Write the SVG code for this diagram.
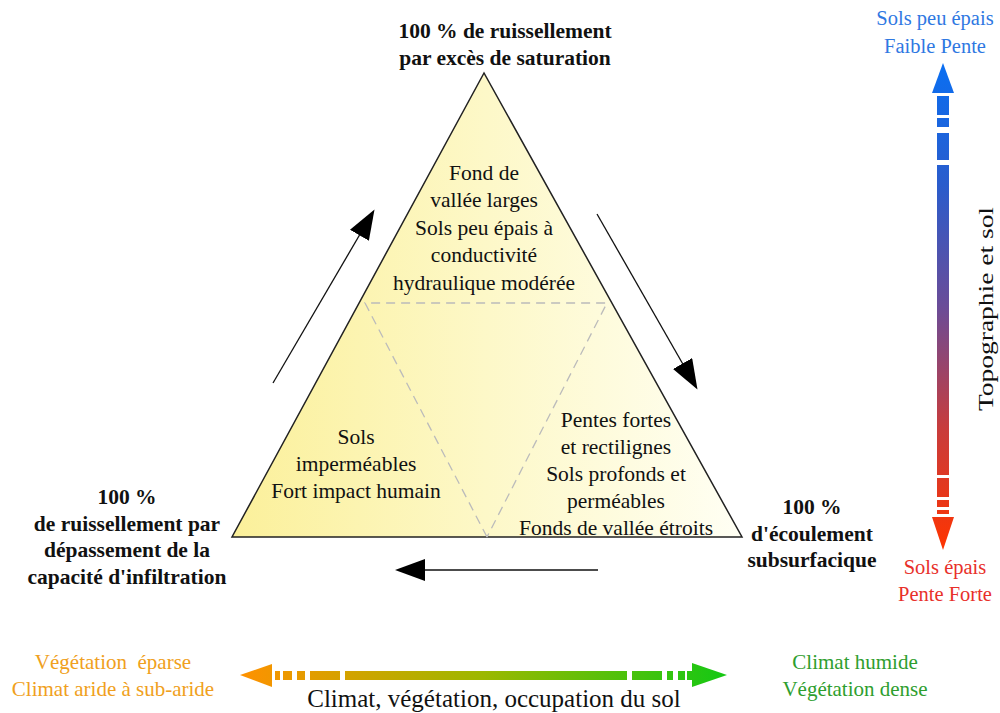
<svg xmlns="http://www.w3.org/2000/svg" width="1000" height="713" viewBox="0 0 1000 713">
<defs>
<linearGradient id="triFill" x1="232" y1="0" x2="742" y2="0" gradientUnits="userSpaceOnUse">
<stop offset="0" stop-color="#fbf09a"/>
<stop offset="0.5" stop-color="#fdf8c8"/>
<stop offset="1" stop-color="#fffff4"/>
</linearGradient>
<linearGradient id="vGrad" x1="0" y1="63" x2="0" y2="550" gradientUnits="userSpaceOnUse">
<stop offset="0" stop-color="#0a6ff2"/>
<stop offset="0.25" stop-color="#2a5ccc"/>
<stop offset="0.5" stop-color="#6a4c98"/>
<stop offset="0.75" stop-color="#c83c3c"/>
<stop offset="1" stop-color="#ff3400"/>
</linearGradient>
<linearGradient id="hGrad" x1="240" y1="0" x2="727" y2="0" gradientUnits="userSpaceOnUse">
<stop offset="0" stop-color="#ff9100"/>
<stop offset="0.5" stop-color="#9cb800"/>
<stop offset="1" stop-color="#14c814"/>
</linearGradient>
<marker id="ah" viewBox="0 0 10 10" refX="9" refY="5" markerWidth="30" markerHeight="22" markerUnits="userSpaceOnUse" orient="auto" preserveAspectRatio="none">
<path d="M0,0 L10,5 L0,10 z" fill="#000"/>
</marker>
<style>
.t{fill:#111;text-anchor:middle}
.b{font-weight:bold;font-size:21.5px}
.n{font-size:21.5px}
.c{font-size:21px}
.r{font-size:20.5px}
.flow{stroke:#111;stroke-width:1.3;fill:none}
.dash{stroke:#bbb;stroke-width:1.3;stroke-dasharray:9,6;fill:none}
</style>
</defs>

<g font-family="Liberation Serif, Times New Roman, DejaVu Serif, serif">
<g id="triangle">
<polygon points="484,73 232,537 742,537" fill="url(#triFill)" stroke="#222" stroke-width="1.5"/>
<polyline class="dash" points="487,537 365,303 607,303 487,537"/>
</g>

<g id="zone-top">
<text class="t n" x="484" y="180">Fond de</text>
<text class="t n" x="484" y="207">vallée larges</text>
<text class="t n" x="484" y="235">Sols peu épais à</text>
<text class="t n" x="484" y="262">conductivité</text>
<text class="t n" x="484" y="290">hydraulique modérée</text>
</g>

<g id="zone-left">
<text class="t n" x="356" y="444">Sols</text>
<text class="t n" x="356" y="471">imperméables</text>
<text class="t n" x="356" y="498">Fort impact humain</text>
</g>

<g id="zone-right">
<text class="t n" x="616" y="427">Pentes fortes</text>
<text class="t n" x="616" y="454">et rectilignes</text>
<text class="t n" x="616" y="481">Sols profonds et</text>
<text class="t n" x="616" y="508">perméables</text>
<text class="t n" x="616" y="535">Fonds de vallée étroits</text>
</g>

<g id="label-top">
<text class="t b" x="505" y="38">100 % de ruissellement</text>
<text class="t b" x="505" y="65">par excès de saturation</text>
</g>

<g id="label-left">
<text class="t b" x="127" y="504">100 %</text>
<text class="t b" x="127" y="531">de ruissellement par</text>
<text class="t b" x="127" y="557">dépassement de la</text>
<text class="t b" x="127" y="584">capacité d'infiltration</text>
</g>

<g id="label-right">
<text class="t b" x="812" y="514">100 %</text>
<text class="t b" x="812" y="541">d'écoulement</text>
<text class="t b" x="812" y="567">subsurfacique</text>
</g>

<g id="connectors">
<line class="flow" x1="273" y1="383" x2="373" y2="212" marker-end="url(#ah)"/>
<line class="flow" x1="597" y1="214" x2="696" y2="387" marker-end="url(#ah)"/>
<line class="flow" x1="598" y1="570" x2="398" y2="570" marker-end="url(#ah)"/>
</g>

<g id="axis-topography">
<g fill="url(#vGrad)">
<polygon points="943,63 954,93 932,93"/>
<rect x="937" y="96" width="12" height="19"/>
<rect x="937" y="118" width="12" height="9"/>
<rect x="937" y="133" width="12" height="27"/>
<rect x="937" y="165" width="12" height="310"/>
<rect x="937" y="478" width="12" height="19"/>
<rect x="937" y="500" width="12" height="7"/>
<rect x="937" y="510" width="12" height="4"/>
<polygon points="932,517 954,517 943,550"/>
</g>
<text class="t r" x="935" y="25" style="fill:#2f78e2">Sols peu épais</text>
<text class="t r" x="935" y="53" style="fill:#2f78e2">Faible Pente</text>
<text class="t r" x="945" y="574" style="fill:#e8302a">Sols épais</text>
<text class="t r" x="945" y="601" style="fill:#e8302a">Pente Forte</text>
<text class="t" x="0" y="0" transform="translate(993,309) rotate(-90)" style="font-size:21px" textLength="204" lengthAdjust="spacingAndGlyphs">Topographie et sol</text>
</g>

<g id="axis-climate">
<g fill="url(#hGrad)">
<polygon points="240,675 272,664 272,687"/>
<rect x="275" y="671" width="5" height="9"/>
<rect x="283" y="671" width="9" height="9"/>
<rect x="297" y="671" width="8" height="9"/>
<rect x="310" y="671" width="30" height="9"/>
<rect x="345" y="671" width="282" height="9"/>
<rect x="632" y="671" width="30" height="9"/>
<rect x="667" y="671" width="6" height="9"/>
<rect x="678" y="671" width="7" height="9"/>
<rect x="687" y="671" width="5" height="9"/>
<polygon points="692,663 727,675 692,687"/>
</g>
<text class="t c" x="113" y="669" style="fill:#f0a020" xml:space="preserve">Végétation  éparse</text>
<text class="t c" x="113" y="696" style="fill:#f0a020">Climat aride à sub-aride</text>
<text class="t c" x="855" y="669" style="fill:#2e9e2e">Climat humide</text>
<text class="t c" x="855" y="696" style="fill:#2e9e2e">Végétation dense</text>
<text class="t" x="494" y="707" style="font-size:25px">Climat, végétation, occupation du sol</text>
</g>
</g>
</svg>
